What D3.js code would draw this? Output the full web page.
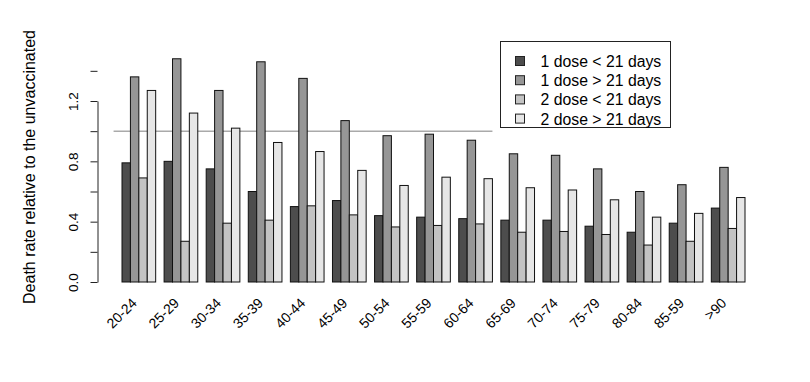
<!DOCTYPE html>
<html>
<head>
<meta charset="utf-8">
<script src="https://cdn.jsdelivr.net/npm/d3@7"></script>
<style>
  body { margin: 0; background: #fff; }
  svg { font-family: "Liberation Sans", Arial, sans-serif; }
</style>
</head>
<body>
<div class="canvas"></div>
<script>
// what to show
var ageGroups = ['20-24', '25-29', '30-34', '35-39', '40-44', '45-49', '50-54', '55-59',
                 '60-64', '65-69', '70-74', '75-79', '80-84', '85-59', '>90'];
var seriesNames = ['1 dose < 21 days', '1 dose > 21 days', '2 dose < 21 days', '2 dose > 21 days'];
var dose1Early = [0.79, 0.80, 0.75, 0.60, 0.50, 0.54, 0.44, 0.43, 0.42, 0.41, 0.41, 0.37, 0.33, 0.39, 0.49];
var dose1Late  = [1.36, 1.48, 1.27, 1.46, 1.35, 1.07, 0.97, 0.98, 0.94, 0.85, 0.84, 0.75, 0.60, 0.645, 0.76];
var dose2Early = [0.69, 0.27, 0.39, 0.41, 0.505, 0.445, 0.365, 0.375, 0.385, 0.33, 0.335, 0.315, 0.245, 0.27, 0.355];
var dose2Late  = [1.27, 1.12, 1.02, 0.925, 0.865, 0.74, 0.64, 0.695, 0.685, 0.625, 0.61, 0.545, 0.43, 0.455, 0.56];
var series = [dose1Early, dose1Late, dose2Early, dose2Late];
var colors = ['#4D4D4D', '#969696', '#C3C3C3', '#E6E6E6'];
var yTicks = [0, 0.2, 0.4, 0.6, 0.8, 1.0, 1.2, 1.4];
var yLabelTicks = [0, 0.4, 0.8, 1.2];
var refValue = 1.0;
var refFrom = 0, refTo = 45;   // in bar units

var width = 810, height = 382;

var svg = d3.select('.canvas').append('svg')
    .attr('width', width)
    .attr('height', height);

// bar units: each group is 4 bars wide with 1 unit gap before it
var x = d3.scaleLinear().domain([1, 75]).range([122, 745]);
var y = d3.scaleLinear().domain([0, 1.2]).range([282, 101]);

var bars = [];
ageGroups.forEach(function (g, gi) {
    series.forEach(function (s, si) {
        bars.push({ u: 1 + gi * 5 + si, v: s[gi], c: colors[si] });
    });
});

// reference line
svg.append('line')
    .attr('x1', x(refFrom)).attr('x2', x(refTo))
    .attr('y1', y(refValue)).attr('y2', y(refValue))
    .attr('stroke', '#aaaaaa')
    .attr('stroke-width', 1.5);

svg.selectAll('rect.bar')
    .data(bars)
    .enter()
    .append('rect')
    .attr('class', 'bar')
    .attr('x', function (d) { return x(d.u); })
    .attr('width', function (d) { return x(d.u + 1) - x(d.u); })
    .attr('y', function (d) { return y(d.v); })
    .attr('height', function (d) { return y(0) - y(d.v); })
    .attr('fill', function (d) { return d.c; })
    .attr('stroke', '#111')
    .attr('stroke-width', 1);

// y axis
var yAxis = svg.append('g')
    .attr('transform', 'translate(97.5,0)')
    .call(d3.axisLeft(y)
        .tickValues(yTicks)
        .tickSize(7)
        .tickSizeOuter(0)
        .tickFormat(function (d) {
            return yLabelTicks.indexOf(d) >= 0 ? d3.format('.1f')(d) : '';
        }));
yAxis.select('.domain').attr('stroke', '#222');
yAxis.selectAll('line').attr('stroke', '#222');
yAxis.selectAll('text')
    .attr('x', null).attr('dy', null)
    .attr('text-anchor', 'middle')
    .attr('transform', 'translate(-20,0) rotate(-90)')
    .attr('font-size', 13.5)
    .attr('font-family', '"Liberation Sans", Arial, sans-serif')
    .attr('fill', '#000');

svg.append('text')
    .attr('transform', 'translate(35,167) rotate(-90)')
    .attr('text-anchor', 'middle')
    .attr('font-size', 16)
    .text('Death rate relative to the unvaccinated');

// x labels
svg.selectAll('text.xlab')
    .data(ageGroups)
    .enter()
    .append('text')
    .attr('class', 'xlab')
    .attr('text-anchor', 'end')
    .attr('font-size', 14)
    .attr('transform', function (d, i) {
        var cx = x(1 + i * 5 + 2);
        return 'translate(' + (cx - 1) + ',' + 304 + ') rotate(-45)';
    })
    .text(function (d) { return d; });

// legend
var legend = svg.append('g').attr('transform', 'translate(500.5,41.5)');
legend.append('rect')
    .attr('width', 170).attr('height', 86)
    .attr('fill', '#fff')
    .attr('stroke', '#222');
var items = legend.selectAll('g.item')
    .data(seriesNames)
    .enter()
    .append('g')
    .attr('class', 'item')
    .attr('transform', function (d, i) { return 'translate(0,' + (20 + i * 19.2) + ')'; });
items.append('rect')
    .attr('x', 15).attr('y', -5)
    .attr('width', 9).attr('height', 9)
    .attr('fill', function (d, i) { return colors[i]; })
    .attr('stroke', '#222');
items.append('text')
    .attr('x', 40).attr('y', 5.5)
    .attr('font-size', 15.8)
    .text(function (d) { return d; });
</script>
</body>
</html>
